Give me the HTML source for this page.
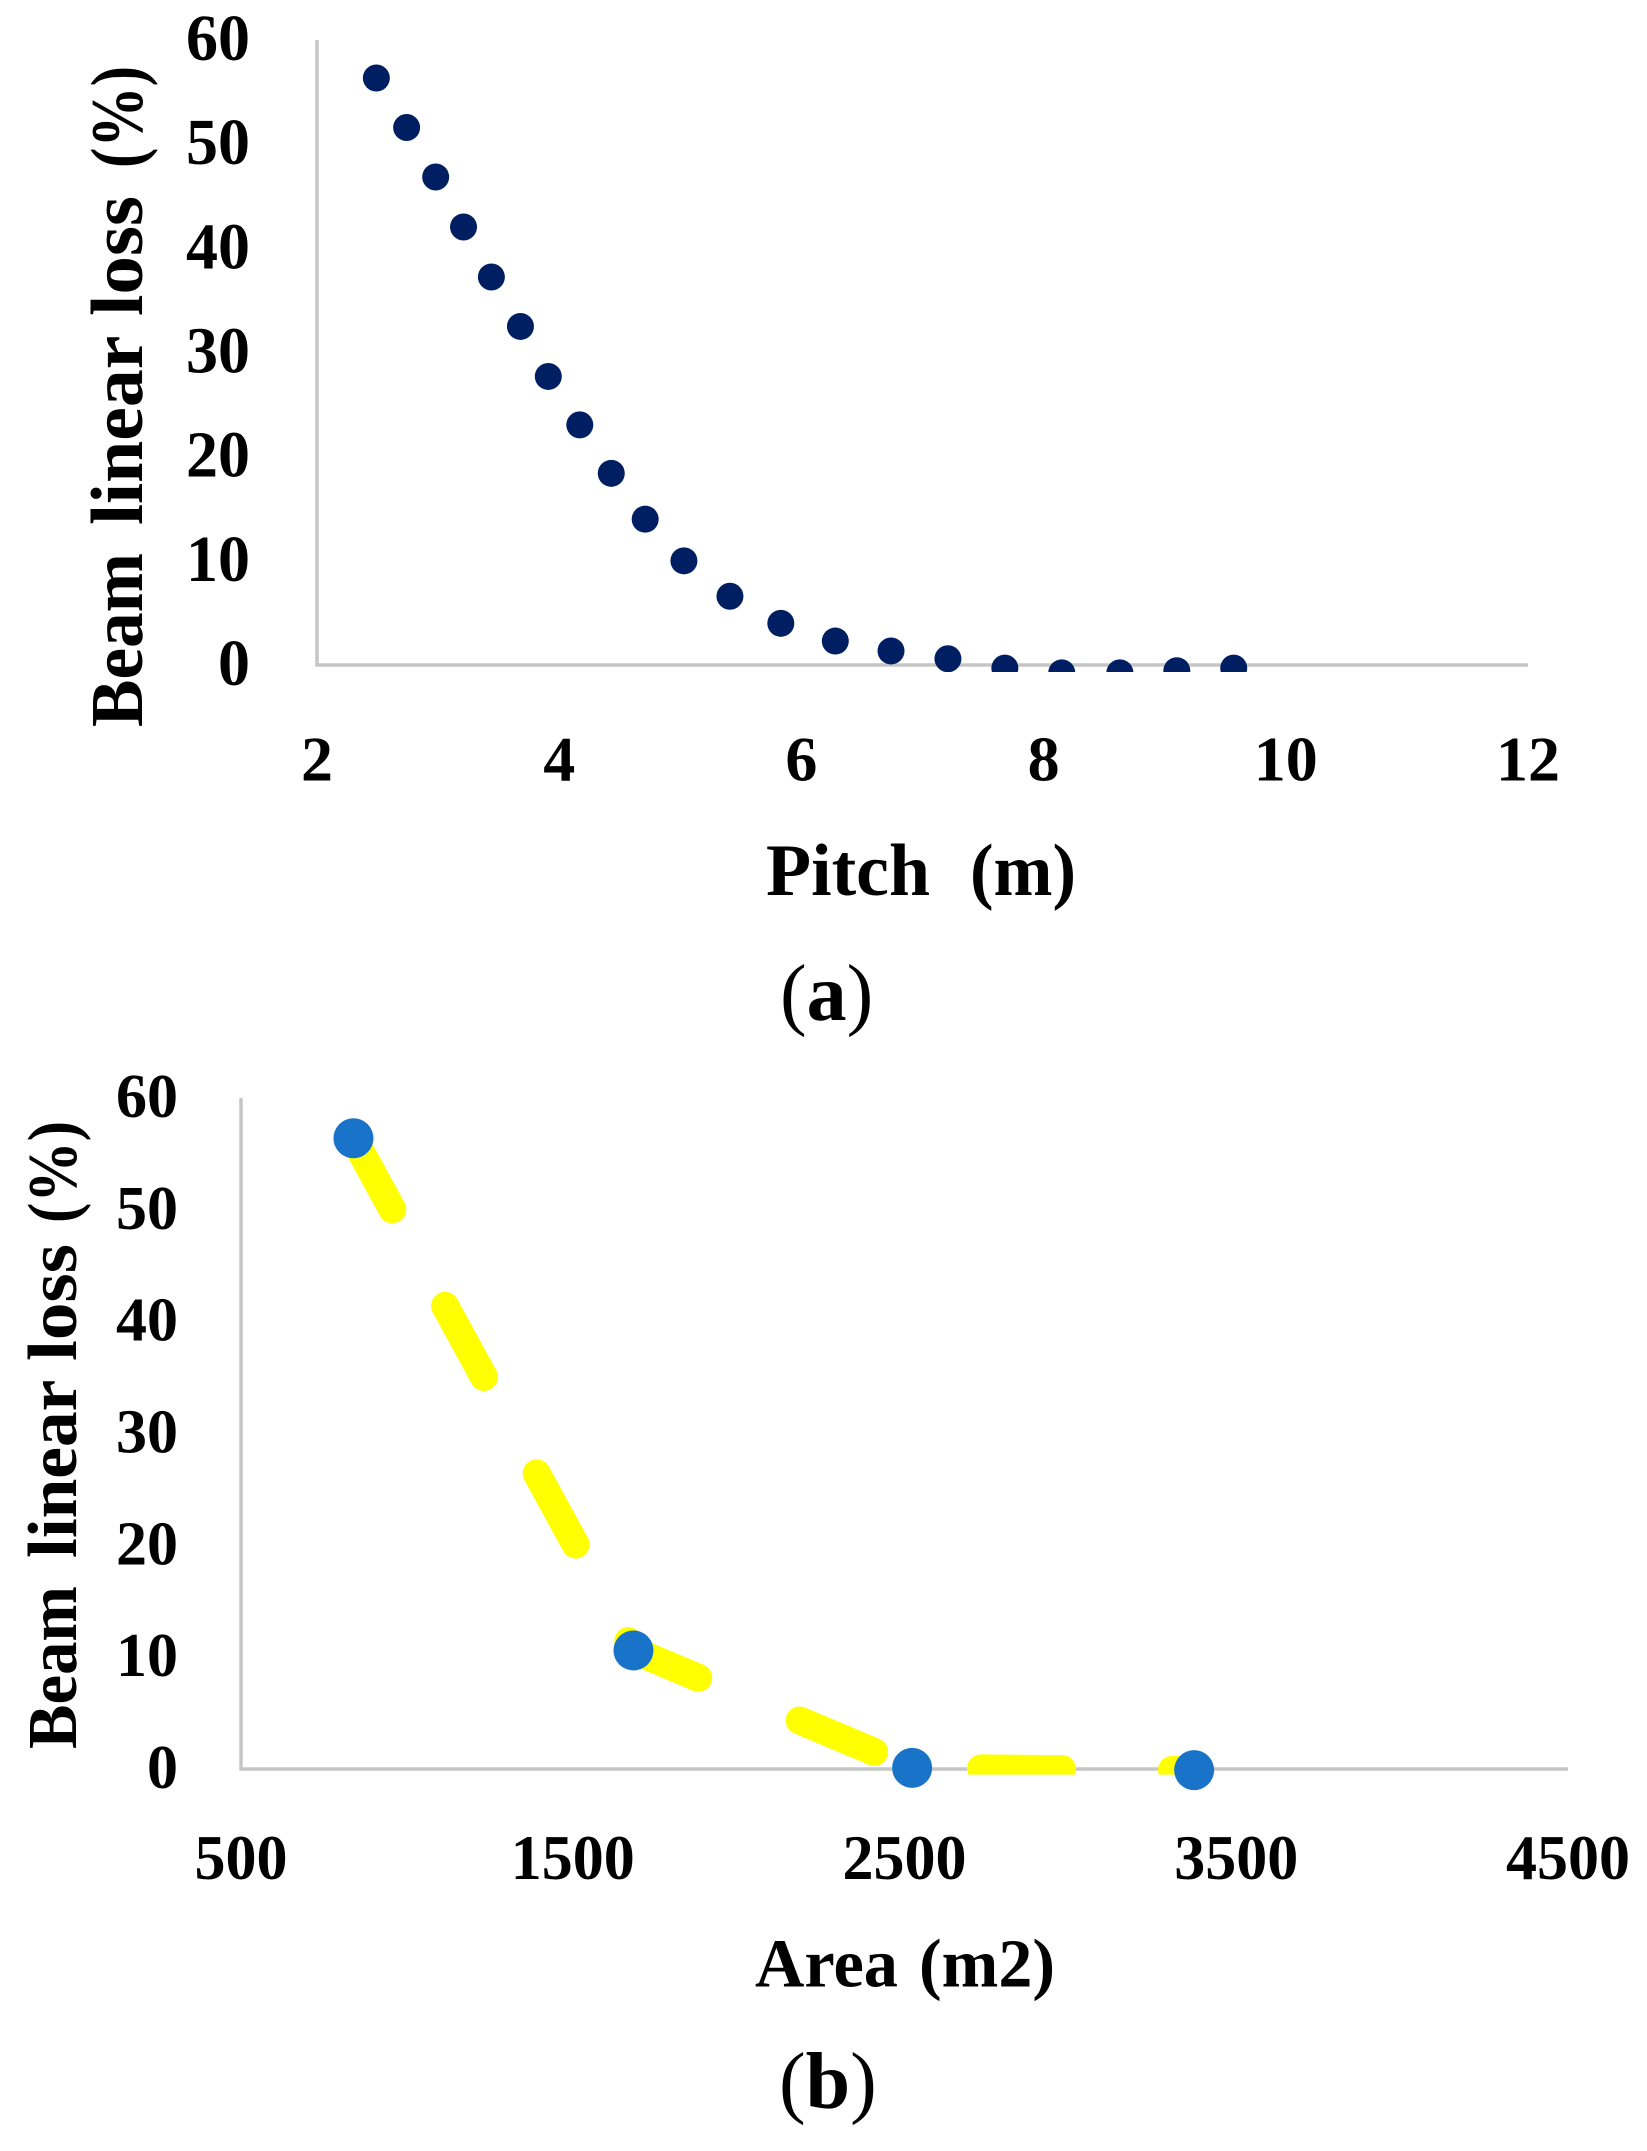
<!DOCTYPE html>
<html lang="en">
<head>
<meta charset="utf-8">
<title>Beam linear loss charts</title>
<style>
  html, body { margin: 0; padding: 0; background: #ffffff; }
  body { width: 1647px; height: 2151px; overflow: hidden; }
  svg { display: block; }
  text { font-family: "Liberation Serif", serif; font-weight: 700; fill: #000000; }
  .paren { font-weight: 400; }
</style>
</head>
<body>
<svg id="figure" xmlns="http://www.w3.org/2000/svg" width="1647" height="2151" viewBox="0 0 1647 2151">
  <defs>
    <clipPath id="clip-a"><rect x="0" y="0" width="1647" height="672"></rect></clipPath>
    <clipPath id="clip-b"><rect x="0" y="1000" width="1647" height="774.6"></rect></clipPath>
  </defs>

  <g id="chart-a">
    <line x1="317" y1="40" x2="317" y2="666.5" stroke="#c6c6c6" stroke-width="3.5"></line>
    <line x1="315.5" y1="665" x2="1528" y2="665" stroke="#c6c6c6" stroke-width="3.5"></line>
    <g id="a-ticks"></g>
    <g id="a-points" clip-path="url(#clip-a)"></g>
    <text transform="translate(142,727) rotate(-90)" font-size="74"><tspan x="0" textLength="174" lengthAdjust="spacingAndGlyphs">Beam</tspan> <tspan x="202" textLength="188" lengthAdjust="spacingAndGlyphs">linear</tspan> <tspan x="411" textLength="120" lengthAdjust="spacingAndGlyphs">loss</tspan> <tspan x="559" textLength="102" lengthAdjust="spacingAndGlyphs">(%)</tspan></text>
    <text y="895" font-size="74"><tspan x="766" textLength="164" lengthAdjust="spacingAndGlyphs">Pitch</tspan> <tspan x="970" textLength="106" lengthAdjust="spacingAndGlyphs">(m)</tspan></text>
    <text x="780" y="1020" font-size="80"><tspan class="paren">(</tspan>a<tspan class="paren">)</tspan></text>
  </g>

  <g id="chart-b">
    <line x1="241" y1="1098" x2="241" y2="1770.5" stroke="#c6c6c6" stroke-width="3.5"></line>
    <line x1="239.5" y1="1769" x2="1568" y2="1769" stroke="#c6c6c6" stroke-width="3.5"></line>
    <g id="b-ticks"></g>
    <g clip-path="url(#clip-b)">
      <polyline id="b-line" fill="none" stroke="#ffff00" stroke-width="28" stroke-linecap="round" stroke-linejoin="round" stroke-dasharray="81 110"></polyline>
    </g>
    <g id="b-points"></g>
    <text transform="translate(76,1749) rotate(-90)" font-size="70"><tspan x="0" textLength="163" lengthAdjust="spacingAndGlyphs">Beam</tspan> <tspan x="191" textLength="177" lengthAdjust="spacingAndGlyphs">linear</tspan> <tspan x="388" textLength="117" lengthAdjust="spacingAndGlyphs">loss</tspan> <tspan x="526" textLength="102" lengthAdjust="spacingAndGlyphs">(%)</tspan></text>
    <text y="1986.5" font-size="69"><tspan x="755" textLength="143" lengthAdjust="spacingAndGlyphs">Area</tspan> <tspan x="919" textLength="136" lengthAdjust="spacingAndGlyphs">(m2)</tspan></text>
    <text x="779" y="2108" font-size="80"><tspan class="paren">(</tspan>b<tspan class="paren">)</tspan></text>
  </g>
</svg>

<script>
const pitchValues = [2.49, 2.74, 2.98, 3.21, 3.44, 3.68, 3.91, 4.17, 4.43, 4.71, 5.03, 5.41, 5.83, 6.28, 6.74, 7.21, 7.68, 8.15, 8.63, 9.10, 9.57];
const pitchLoss = [56.35, 51.6, 46.85, 42.05, 37.25, 32.5, 27.7, 23.05, 18.4, 14.0, 10.0, 6.6, 4.0, 2.3, 1.35, 0.6, -0.3, -0.75, -0.75, -0.55, -0.3];
const pitchXTicks = [2, 4, 6, 8, 10, 12];
const lossTicks = [0, 10, 20, 30, 40, 50, 60];

const areaValues = [839, 1683, 2523, 3373];
const areaLoss = [56.4, 10.6, 0.1, -0.1];
const areaXTicks = [500, 1500, 2500, 3500, 4500];

const SVG_NS = 'http://www.w3.org/2000/svg';

function linear(d0, d1, r0, r1) {
  return function (v) { return r0 + (v - d0) * (r1 - r0) / (d1 - d0); };
}

const xA = linear(2, 12, 317, 1528);
const yA = linear(0, 60, 665, 40);
const xB = linear(500, 4500, 241, 1568);
const yB = linear(0, 60, 1769, 1098);

function tickText(parent, label, x, y, anchor, size, sy) {
  const t = document.createElementNS(SVG_NS, 'text');
  t.setAttribute('transform', 'translate(' + x + ',' + y + ') scale(1,' + sy + ')');
  t.setAttribute('text-anchor', anchor);
  t.setAttribute('font-size', size);
  t.textContent = String(label);
  parent.appendChild(t);
  return t;
}

function dot(parent, cx, cy, r, color) {
  const c = document.createElementNS(SVG_NS, 'circle');
  c.setAttribute('cx', cx);
  c.setAttribute('cy', cy);
  c.setAttribute('r', r);
  c.setAttribute('fill', color);
  parent.appendChild(c);
  return c;
}

const aTicks = document.getElementById('a-ticks');
const aPoints = document.getElementById('a-points');
const bTicks = document.getElementById('b-ticks');
const bPoints = document.getElementById('b-points');
const bLine = document.getElementById('b-line');

lossTicks.forEach(function (v) {
  const el = tickText(aTicks, v, 250, yA(v) + 20, 'end', 64, 1.02);
  
  
});
pitchXTicks.forEach(function (v) {
  const el = tickText(aTicks, v, xA(v), 780.5, 'middle', 64, 1.0);
  
  
});
pitchValues.forEach(function (v, i) {
  const el = dot(aPoints, xA(v), yA(pitchLoss[i]), 13.5, '#001f63');
  
  
});

lossTicks.forEach(function (v) {
  const el = tickText(bTicks, v, 178, yB(v) + 19, 'end', 62, 1.0);
  
  
});
areaXTicks.forEach(function (v) {
  const el = tickText(bTicks, v, xB(v), 1879, 'middle', 62, 1.03);
  
  
});
bLine.setAttribute('points', areaValues.map(function (v, i) {
  return xB(v) + ',' + yB(areaLoss[i]);
}).join(' '));
areaValues.forEach(function (v, i) {
  const el = dot(bPoints, xB(v), yB(areaLoss[i]), 20, '#1873c9');
  
  
});
</script>
</body>
</html>
